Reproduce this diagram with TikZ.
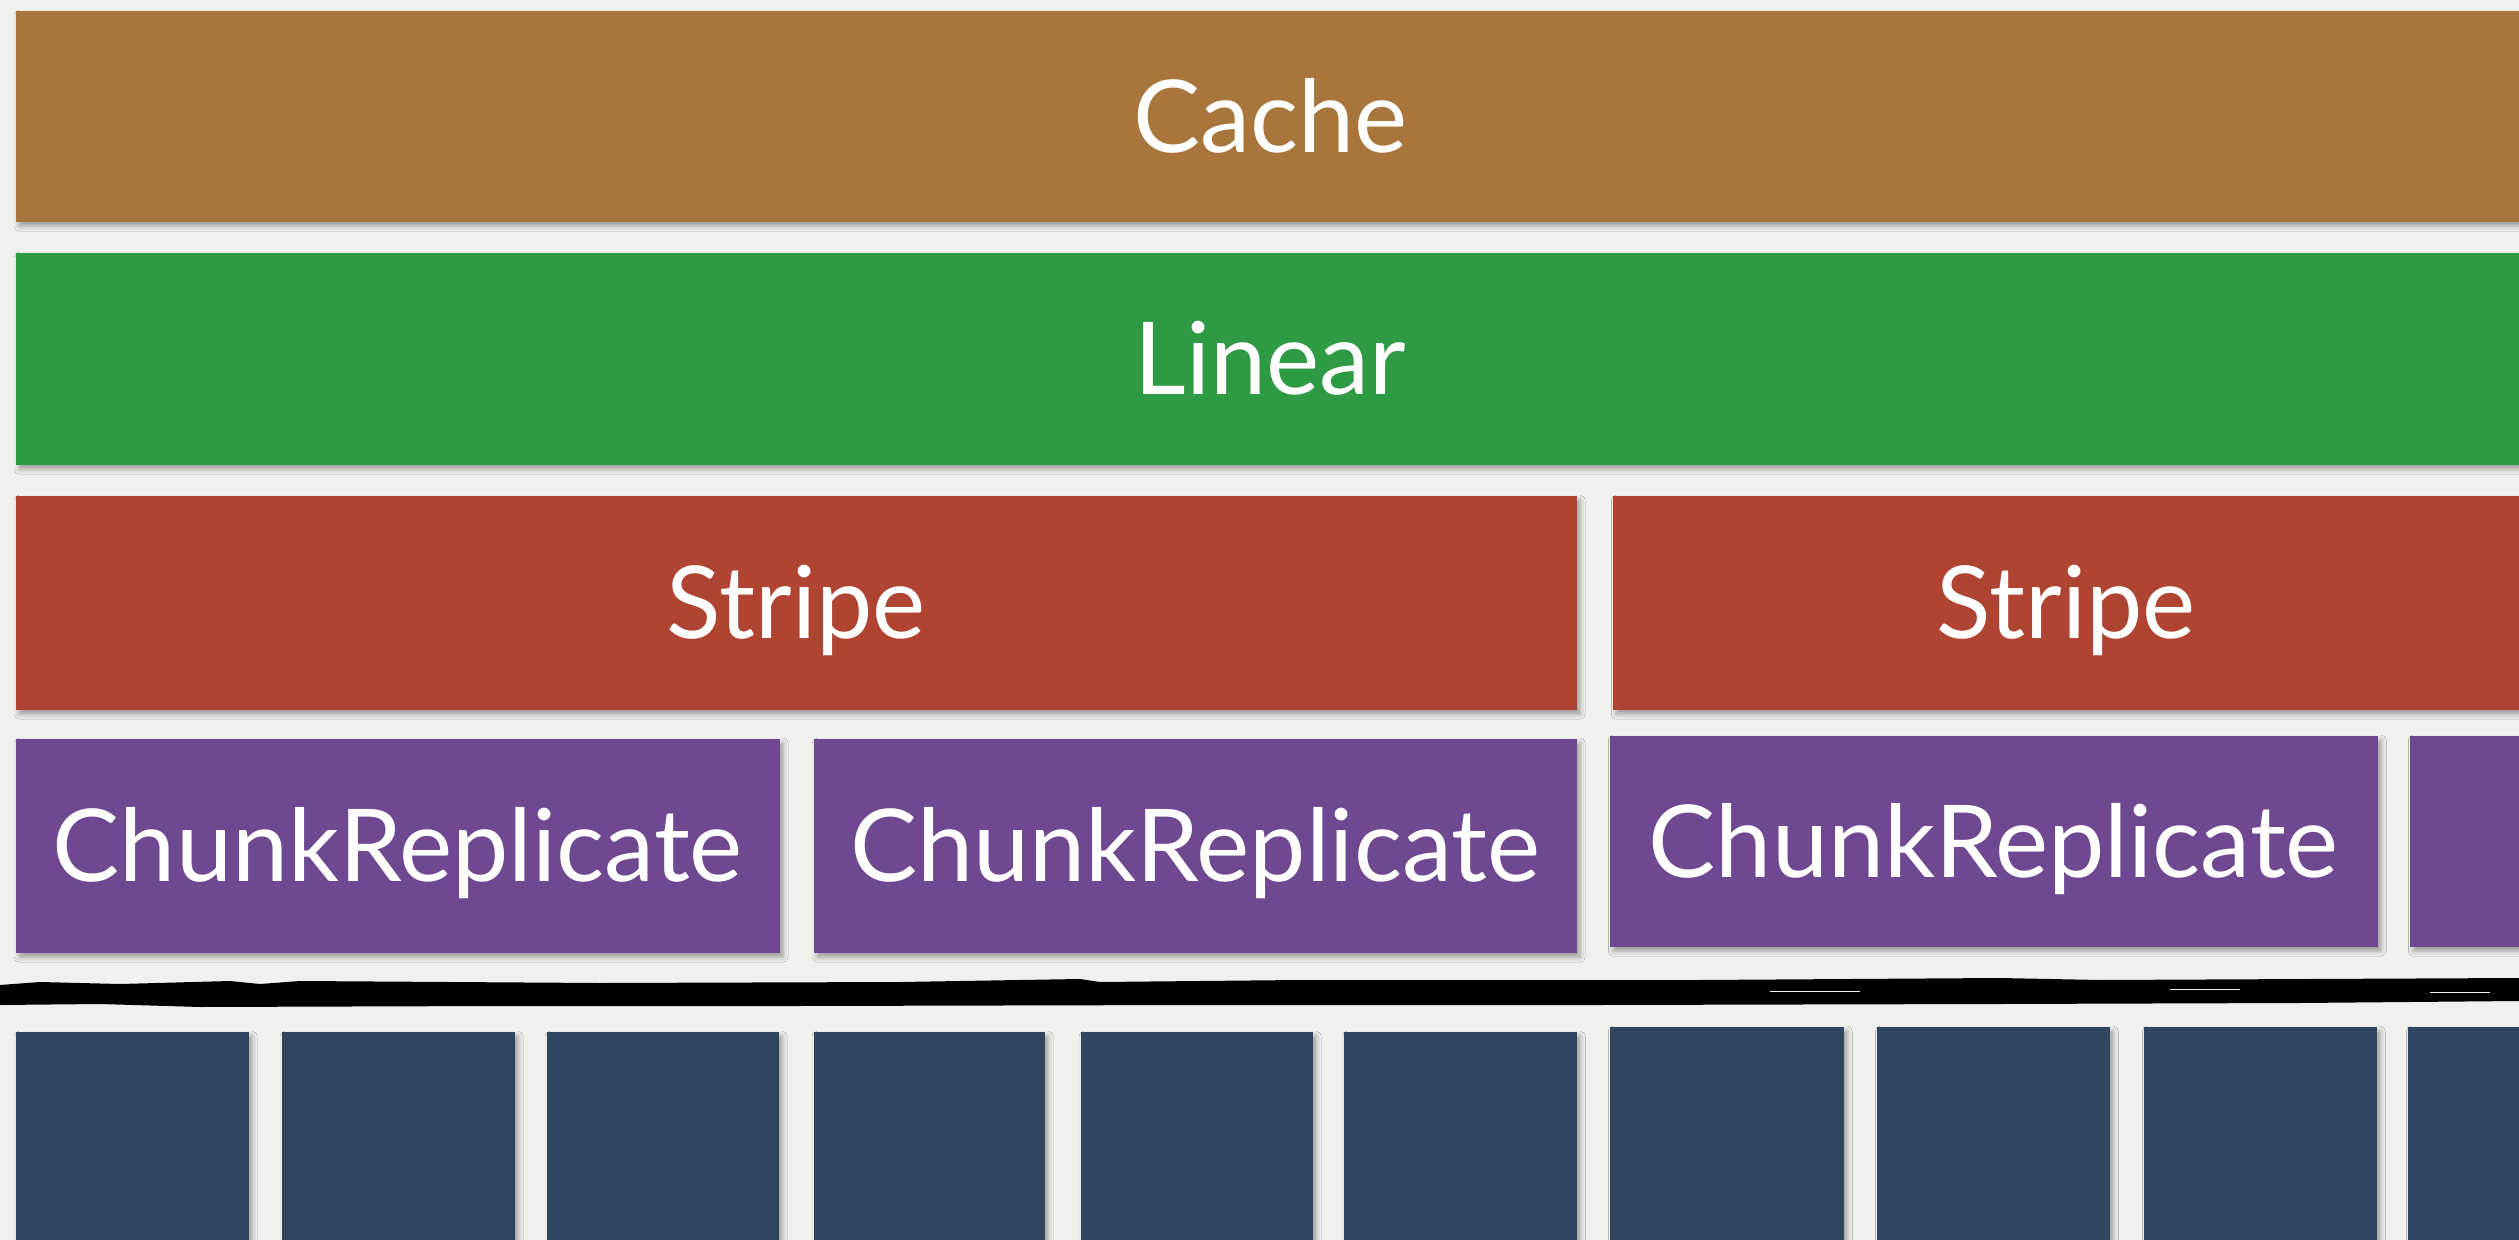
\documentclass[tikz,border=0pt]{standalone}
\usepackage{fontspec}
\setmainfont{Lato}
\usetikzlibrary{shadows.blur}

\definecolor{paper}{RGB}{240,241,236}
\definecolor{cachebrown}{RGB}{168,118,60}
\definecolor{lineargreen}{RGB}{46,154,68}
\definecolor{stripered}{RGB}{176,68,50}
\definecolor{chunkpurple}{RGB}{110,72,145}
\definecolor{diskblue}{RGB}{47,69,96}

\tikzset{
  card/.style={fill=#1, inner sep=0pt, draw=none, anchor=north west,
    blur shadow={shadow xshift=0.035cm, shadow yshift=-0.045cm,
      shadow blur radius=0.05cm, shadow opacity=35}},
  span/.style 2 args={minimum width=#1*0.01cm, minimum height=#2*0.01cm},
  layer/.style={card=#1, text=white, font=\fontsize{28.6}{34}\selectfont,
    text height=0.72cm, text depth=0pt},
  disk/.style={card=diskblue}
}

\begin{document}
\begin{tikzpicture}[x=0.01cm, y=-0.01cm]
  \useasboundingbox (0,0) rectangle (2519,1240);
  \clip (0,0) rectangle (2519,1240);
  \fill[paper] (0,0) rectangle (2519,1240);

  % layers
  \node[layer=cachebrown, span={2510}{211}] (cache) at (15,10) {Cache};
  \node[layer=lineargreen, span={2510}{212}] (linear) at (15,252) {Linear};
  \node[layer=stripered, span={1561}{214}] (stripe1) at (15,495) {Stripe};
  \node[layer=stripered, span={907}{214}] (stripe2) at (1612,495) {Stripe};
  \node[layer=chunkpurple, span={764}{214}] (chunk1) at (15,738) {ChunkReplicate};
  \node[layer=chunkpurple, span={763}{214}] (chunk2) at (813,738) {ChunkReplicate};
  \node[layer=chunkpurple, span={768}{211}] (chunk3) at (1609,735) {ChunkReplicate};
  \node[card=chunkpurple, span={150}{211}] (chunk4) at (2409,735) {};

  % brush stroke
  \fill[black] (0,985) -- (40,982) -- (120,984) -- (230,981) -- (260,984)
    -- (300,981) -- (600,983) -- (900,982) -- (1080,979) -- (1100,982)
    -- (1300,980) -- (1700,980) -- (2000,978) -- (2100,980) -- (2519,978)
    -- (2519,1001) -- (2300,1003) -- (2000,1004) -- (1600,1005) -- (1200,1005)
    -- (800,1006) -- (500,1006) -- (200,1007) -- (100,1004) -- (0,1005) -- cycle;
  \foreach \a/\b/\h in {1770/1860/991, 2170/2240/989, 2430/2490/992}
    \draw[paper, line width=0.25pt] (\a,\h) -- (\b,\h);

  % disks
  \foreach \l/\w/\t [count=\i] in {15/233/1031, 281/233/1031, 546/232/1031,
      813/231/1031, 1080/232/1031, 1343/233/1031, 1609/234/1026,
      1876/233/1026, 2143/233/1026, 2407/150/1026}
    \node[disk, span={\w}{240}] (d\i) at (\l,\t) {};
\end{tikzpicture}
\end{document}
